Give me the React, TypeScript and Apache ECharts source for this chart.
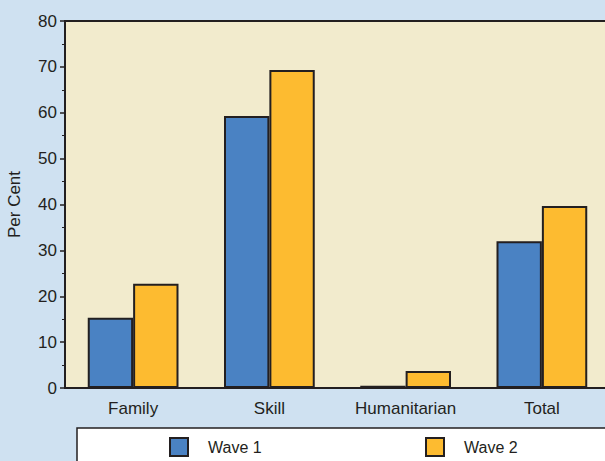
import React, { useEffect, useRef } from "react";
import * as echarts from "echarts";

const categories = ["Family", "Skill", "Humanitarian", "Total"];
const wave1 = [15.3, 59.3, 0.5, 32.0];
const wave2 = [22.7, 69.3, 3.7, 39.7];
const seriesNames = ["Wave 1", "Wave 2"];

const FONT = "'Liberation Sans', Arial, sans-serif";
const INK = "#231f20";
const FS = 17;

export default function App() {
  const ref = useRef<HTMLDivElement>(null);
  useEffect(() => {
    if (!ref.current) return;
    const chart = echarts.init(ref.current, null, { renderer: "svg" });
    chart.setOption({
      animation: false,
      backgroundColor: "#cfe1f1",
      textStyle: { fontFamily: FONT, color: INK },
      grid: {
        left: 65,
        top: 21,
        width: 545,
        height: 367,
        outerBoundsMode: "none",
        show: true,
        backgroundColor: "#f2ebcd",
        borderColor: INK,
        borderWidth: 2,
        containLabel: false,
      },
      graphic: [
        {
          type: "rect",
          shape: { x: 77, y: 428, width: 540, height: 45 },
          style: { fill: "#ffffff", stroke: INK, lineWidth: 1.5 },
          z: 0,
        },
      ],
      legend: [
        {
          data: [seriesNames[0]],
          left: 169,
          top: 437,
          padding: 0,
          itemWidth: 18,
          itemHeight: 18,
          icon: "rect",
          textStyle: { fontSize: 16, color: INK, fontFamily: FONT, padding: [0, 0, 0, 15] },
          z: 5,
        },
        {
          data: [seriesNames[1]],
          left: 425,
          top: 437,
          padding: 0,
          itemWidth: 18,
          itemHeight: 18,
          icon: "rect",
          textStyle: { fontSize: 16, color: INK, fontFamily: FONT, padding: [0, 0, 0, 15] },
          z: 5,
        },
      ],
      xAxis: {
        type: "category",
        data: categories,
        axisLine: { show: true, lineStyle: { color: INK, width: 2 } },
        axisTick: { show: false },
        axisLabel: { fontSize: FS, color: INK, margin: 12, fontFamily: FONT },
      },
      yAxis: {
        type: "value",
        min: 0,
        max: 80,
        interval: 10,
        name: "Per Cent",
        nameLocation: "middle",
        nameGap: 42,
        nameTextStyle: { fontSize: FS, color: INK, fontFamily: FONT },
        axisLine: { show: true, lineStyle: { color: INK, width: 2 } },
        axisTick: { show: true, length: 5, lineStyle: { color: INK, width: 1.5 } },
        minorTick: { show: true, splitNumber: 2, length: 3, lineStyle: { color: INK, width: 1 } },
        splitLine: { show: false },
        axisLabel: { fontSize: FS, color: INK, margin: 8, fontFamily: FONT },
      },
      series: [
        {
          name: seriesNames[0],
          type: "bar",
          data: wave1,
          barWidth: "33.3%",
          barGap: "0%",
          itemStyle: { color: "#4a82c3", borderColor: INK, borderWidth: 2 },
        },
        {
          name: seriesNames[1],
          type: "bar",
          data: wave2,
          barWidth: "33.3%",
          barGap: "0%",
          itemStyle: { color: "#fdbb30", borderColor: INK, borderWidth: 2 },
        },
      ],
    });
    return () => chart.dispose();
  }, []);
  return (
    <div
      ref={ref}
      style={{ position: "fixed", left: 0, top: 0, width: 605, height: 461 }}
    />
  );
}
